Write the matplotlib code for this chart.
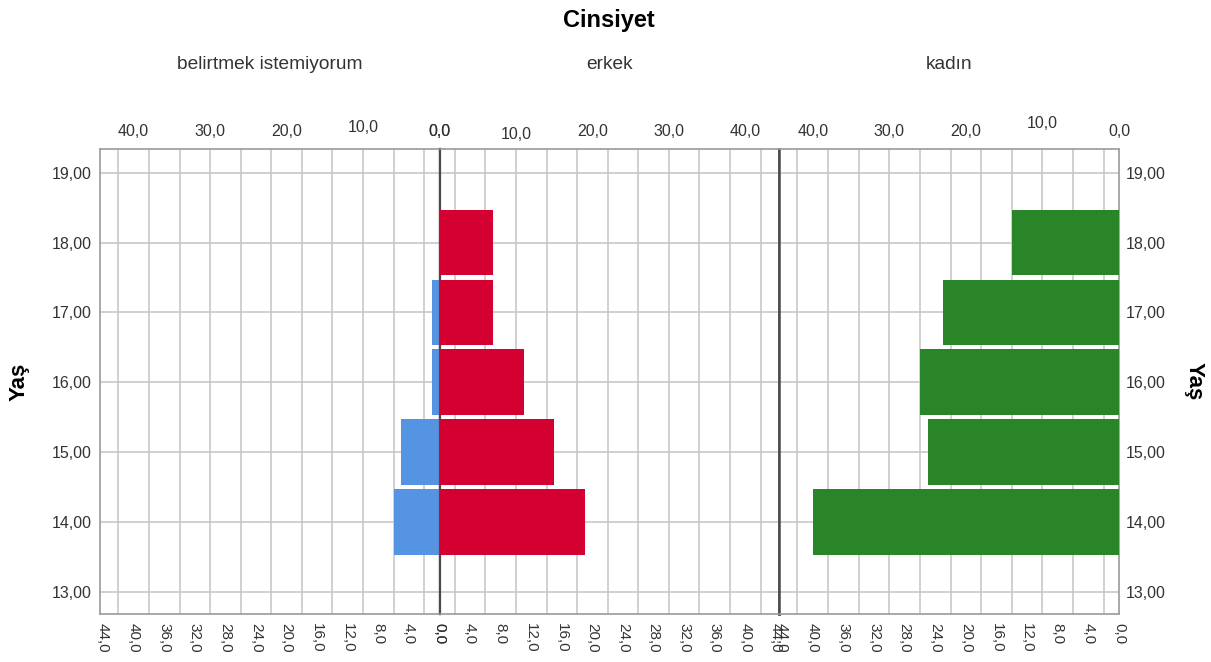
import matplotlib
matplotlib.use('Agg')
import matplotlib.pyplot as plt
from matplotlib.transforms import offset_copy

plt.rcParams['font.family'] = ['Liberation Sans', 'DejaVu Sans']

# data
ages = [14, 15, 16, 17, 18]
belirtmek = [6, 5, 1, 1, 0]
erkek = [19, 15, 11, 7, 7]
kadin = [40, 25, 26, 23, 14]

panel_names = ['belirtmek istemiyorum', 'erkek', 'kadın']
panel_colors = ['#5594e2', '#d50032', '#2a8428']
age_ticks = [13, 14, 15, 16, 17, 18, 19]
age_labels = ['13,00', '14,00', '15,00', '16,00', '17,00', '18,00', '19,00']
bottom_ticks = list(range(0, 45, 4))
top_ticks = [0, 10, 20, 30, 40]
# the odd vertical nudge of some top labels, in pixels (SPSS layout quirk)
top_nudge = [{10: 4}, {10: -3.5}, {10: 8}]

xmax = 44.4
grid_col = '#c4c4c4'
dark = '#4a4a4a'

fig = plt.figure(figsize=(12.11, 6.62), dpi=100)
W, H = 1211., 662.
bottom, height = 48 / H, 465 / H
lefts = [100 / W, 439.5 / W, 779 / W]
widths = [339.5 / W, 339.5 / W, 340 / W]

values = [belirtmek, erkek, kadin]
axes = []
for i in range(3):
    ax = fig.add_axes([lefts[i], bottom, widths[i], height])
    axes.append(ax)
    ax.barh(ages, values[i], height=0.94, color=panel_colors[i], zorder=3)
    if i == 1:
        ax.set_xlim(0, xmax)
    else:
        ax.set_xlim(xmax, 0)
    ax.set_ylim(12.68, 19.34)

    # grid every 2 units / every year
    ax.set_xticks(range(0, 45, 2), minor=True)
    ax.set_yticks(age_ticks)
    ax.grid(True, which='minor', axis='x', color=grid_col, lw=1.1, zorder=0)
    ax.grid(True, which='major', axis='y', color=grid_col, lw=1.1, zorder=0)
    ax.set_axisbelow(True)

    ax.set_xticks(bottom_ticks)
    ax.set_xticklabels(['%d,0' % t for t in bottom_ticks], rotation=-90,
                       fontsize=11, color='#333333')
    ax.tick_params(axis='x', which='both', length=0, pad=6.5)
    ax.tick_params(axis='y', length=0)

    for s in ax.spines.values():
        s.set_color('#9a9a9a')
        s.set_linewidth(1.2)

    # top scale labels
    trans = ax.get_xaxis_transform()
    for t in top_ticks:
        dy = 18 + top_nudge[i].get(t, 0)
        tr = offset_copy(trans, fig=fig, x=0, y=dy, units='dots')
        ax.text(t, 1, '%d,0' % t, transform=tr, ha='center', va='center',
                fontsize=11.5, color='#333333')

    ax.text(0.5, 1.181, panel_names[i], transform=ax.transAxes,
            ha='center', va='center', fontsize=13.8, color='#333333')

# y labels on outer panels only
axes[0].set_yticklabels(age_labels, fontsize=11.5, color='#333333')
axes[0].tick_params(axis='y', pad=6)
axes[1].set_yticklabels([])
axes[2].yaxis.tick_right()
axes[2].set_yticklabels(age_labels, fontsize=11.5, color='#333333')
axes[2].tick_params(axis='y', pad=5)

axes[0].spines['right'].set_color(dark)
axes[0].spines['right'].set_linewidth(1.6)
axes[1].spines['left'].set_color(dark)
axes[1].spines['left'].set_linewidth(1.6)
axes[1].spines['right'].set_color(dark)
axes[1].spines['right'].set_linewidth(1.8)
axes[2].spines['left'].set_color(dark)
axes[2].spines['left'].set_linewidth(1.8)

axes[0].set_ylabel('Yaş', fontsize=16, fontweight='bold', va='center')
axes[0].yaxis.set_label_coords(-0.239, 0.5)
axes[2].yaxis.set_label_position('right')
axes[2].set_ylabel('Yaş', fontsize=16, fontweight='bold', rotation=-90,
                   va='center')
axes[2].yaxis.set_label_coords(1.22, 0.5)

fig.text(609 / W, 1 - 20 / H, 'Cinsiyet', ha='center', va='center',
         fontsize=17, fontweight='bold')

fig.savefig('out.png', dpi=100)
